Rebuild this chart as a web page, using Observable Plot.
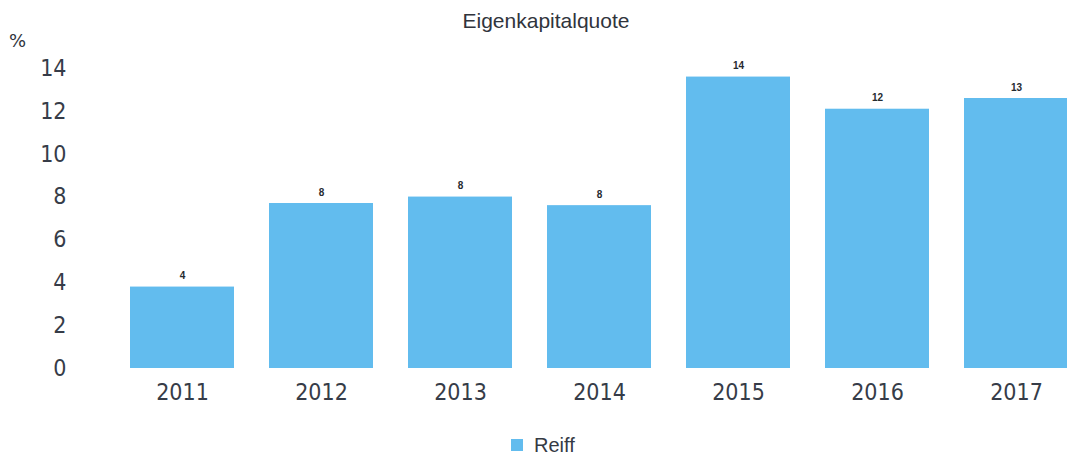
<!DOCTYPE html>
<html>
<head>
<meta charset="utf-8">
<script src="https://cdn.jsdelivr.net/npm/d3@7"></script>
<script src="https://cdn.jsdelivr.net/npm/@observablehq/plot@0.6"></script>
<style>
  body { margin: 0; background: #fff; }
  #wrap { position: relative; width: 1067px; height: 456px; overflow: hidden; }
  #chart svg { display: block; }
  .title { position: absolute; left: 396px; width: 300px; top: 9px; text-align: center;
           font: 21px "Liberation Sans", Arial, sans-serif; color: #30343c; }
  .unit { position: absolute; left: 9px; top: 30px;
          font: 18px "DejaVu Sans", Verdana, sans-serif; color: #30343c; }
  .legend { position: absolute; left: 511px; top: 435px; height: 19px; display: flex; align-items: center;
            font: 20px/1 "Liberation Sans", Arial, sans-serif; color: #353a44; }
  .legend .sw { width: 12px; height: 12px; margin-right: 11px; }
</style>
</head>
<body>
<div id="wrap">
  <div id="chart"></div>
  <div class="title">Eigenkapitalquote</div>
  <div class="unit">%</div>
  <div class="legend"><span class="sw"></span><span class="series-name"></span></div>
</div>
<script>
// Equity ratio (Eigenkapitalquote) per year, in percent
const years = ["2011", "2012", "2013", "2014", "2015", "2016", "2017"];
const equityRatio = [3.8, 7.7, 8.0, 7.6, 13.6, 12.1, 12.6];
const yTicks = [0, 2, 4, 6, 8, 10, 12, 14];
const seriesName = "Reiff";
const barColor = "#62bcee";

const rows = years.map((year, i) => ({year, value: equityRatio[i]}));

const axisFont = "'DejaVu Sans Condensed', 'DejaVu Sans', Verdana, sans-serif";

const chart = Plot.plot({
  width: 1067,
  height: 456,
  marginLeft: 95,
  marginRight: 0,
  marginTop: 0,
  marginBottom: 88,
  style: {background: "transparent", overflow: "hidden"},
  x: {type: "band", domain: years, range: [95, 1103], padding: 0.25},
  y: {domain: [0, 14], range: [368, 68]},
  marks: [
    Plot.barY(rows, {x: "year", y: "value", fill: barColor}),
    Plot.text(rows, {
      x: "year", y: "value",
      text: d => String(Math.round(d.value)),
      dy: -11, fontSize: 10, fontWeight: "bold",
      fontFamily: "'Liberation Sans', Arial, sans-serif", fill: "#262a30"
    }),
    Plot.axisY({
      ticks: yTicks, tickSize: 0, tickPadding: 29, label: null,
      fontSize: 23, fontFamily: axisFont, fill: "#363c48"
    }),
    Plot.axisX({
      tickSize: 0, tickPadding: 15, label: null,
      fontSize: 23, fontFamily: axisFont, fill: "#363c48"
    })
  ]
});

document.getElementById("chart").appendChild(chart);
document.querySelector(".legend .sw").style.background = barColor;
document.querySelector(".legend .series-name").textContent = seriesName;
</script>
</body>
</html>
